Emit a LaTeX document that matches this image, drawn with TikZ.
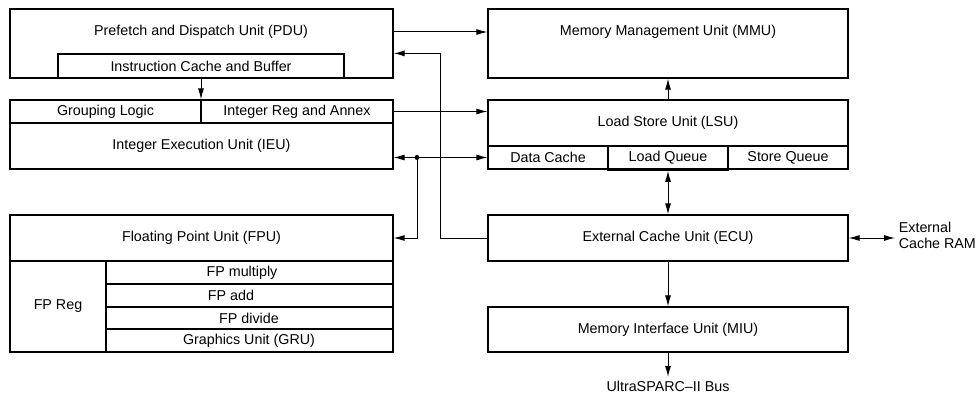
\documentclass[tikz,border=0pt]{standalone}
\usepackage{fontspec}
\setmainfont{Liberation Sans}
\usetikzlibrary{arrows.meta, fit, positioning}

\begin{document}
\begin{tikzpicture}[x=1pt, y=-1pt, line width=1pt,
    font=\fontsize{14.3}{16}\selectfont,
    box/.style={draw, inner sep=0pt, line width=1.2pt},
    arr/.style={-{Latex[length=11pt,width=6pt]}},
    dblarr/.style={{Latex[length=11pt,width=6pt]}-{Latex[length=11pt,width=6pt]}},
    tapdot/.style={circle, fill, inner sep=0pt, minimum size=5pt}]

\useasboundingbox (0,0) rectangle (979,393);

% left column
\node[box, fit={(10,9) (393,78)}] (pdu) {};
\node (pdutxt) at (201,32) {Prefetch and Dispatch Unit (PDU)};
\node[box, fit={(58,54) (344,78)}] (icb) {};
\node (icbtxt) at (icb.center) {Instruction Cache and Buffer};

\node[box, fit={(10,100) (393,169)}] (ieu) {};
\node[box, fit={(10,100) (201,123)}] (grp) {};
\node[box, fit={(201,100) (393,123)}] (intreg) {};
\node[box, fit={(10,123) (393,169)}] (ieucore) {};
\node (grptxt) at (grp.center) {Grouping Logic};
\node (intregtxt) at (intreg.center) {Integer Reg and Annex};
\node (ieutxt) at (ieucore.center) {Integer Execution Unit (IEU)};

\node[box, fit={(10,215) (393,352)}] (fpu) {};
\node[box, fit={(10,215) (393,261)}] (fpuhead) {};
\node[box, fit={(10,261) (106,352)}] (fpreg) {};
\node (fputxt) at (fpuhead.center) {Floating Point Unit (FPU)};
\node (fpregtxt) at (fpreg.center) {FP Reg};
\foreach \y in {284, 307, 329}{
    \draw[line width=1.2pt] (fpreg.east |- 0,\y) -- (fpu.east |- 0,\y);
};
\foreach \x/\y/\t [count=\i] in {242/272.5/FP multiply, 231/295.5/FP add,
    249/318/FP divide, 249/340.5/Graphics Unit (GRU)}{
    \node (fprow\i) at (\x,\y) {\t};
};

% right column
\node[box, fit={(488,9) (848,78)}] (mmu) {};
\node (mmutxt) at (668,32) {Memory Management Unit (MMU)};

\node[box, fit={(488,100) (848,169)}] (lsu) {};
\node (lsutxt) at (668,123) {Load Store Unit (LSU)};
\node[box, fit={(488,146) (608,169)}] (dc) {};
\node[box, fit={(728,146) (848,169)}] (sq) {};
\node[box, line width=1.6pt, fit={(608,146) (728,170)}] (lq) {};
\node (dctxt) at (dc.center) {Data Cache};
\node (lqtxt) at (lq.center) {Load Queue};
\node (sqtxt) at (sq.center) {Store Queue};

\node[box, fit={(488,215) (848,261)}] (ecu) {};
\node (ecutxt) at (ecu.center) {External Cache Unit (ECU)};
\node[box, fit={(488,307) (848,352)}] (miu) {};
\node (miutxt) at (miu.center) {Memory Interface Unit (MIU)};

\node (bus) at (668,386) {UltraSPARC--II Bus};
\node[anchor=west, align=left] (ecram) at (895,235) {External\\Cache RAM};

% connections
\draw[arr] (pdu.east |- pdutxt) -- (mmu.west |- pdutxt);
\draw[arr] (icb.south) -- (ieu.north -| icb.south);
\draw[arr] (intreg.east) -- (lsu.west |- intreg.east);
\draw[dblarr] (ieu.east |- dc.west) -- (lsu.west |- dc.west);
\node[tapdot] (tap) at (417,157.5) {};
\draw[arr] (tap.center) |- (fpuhead.east);
\draw[arr] (ecu.west) -- ++(-47,0) |- (pdu.east |- icb.north);
\draw[arr] (lsu.north) -- (mmu.south);
\draw[dblarr] (lq.south) -- (ecu.north);
\draw[arr] (ecu.south) -- (miu.north);
\draw[arr] (miu.south) -- (bus.north);
\draw[dblarr] (ecu.east) -- (ecram.west |- ecu.east);

\end{tikzpicture}
\end{document}
